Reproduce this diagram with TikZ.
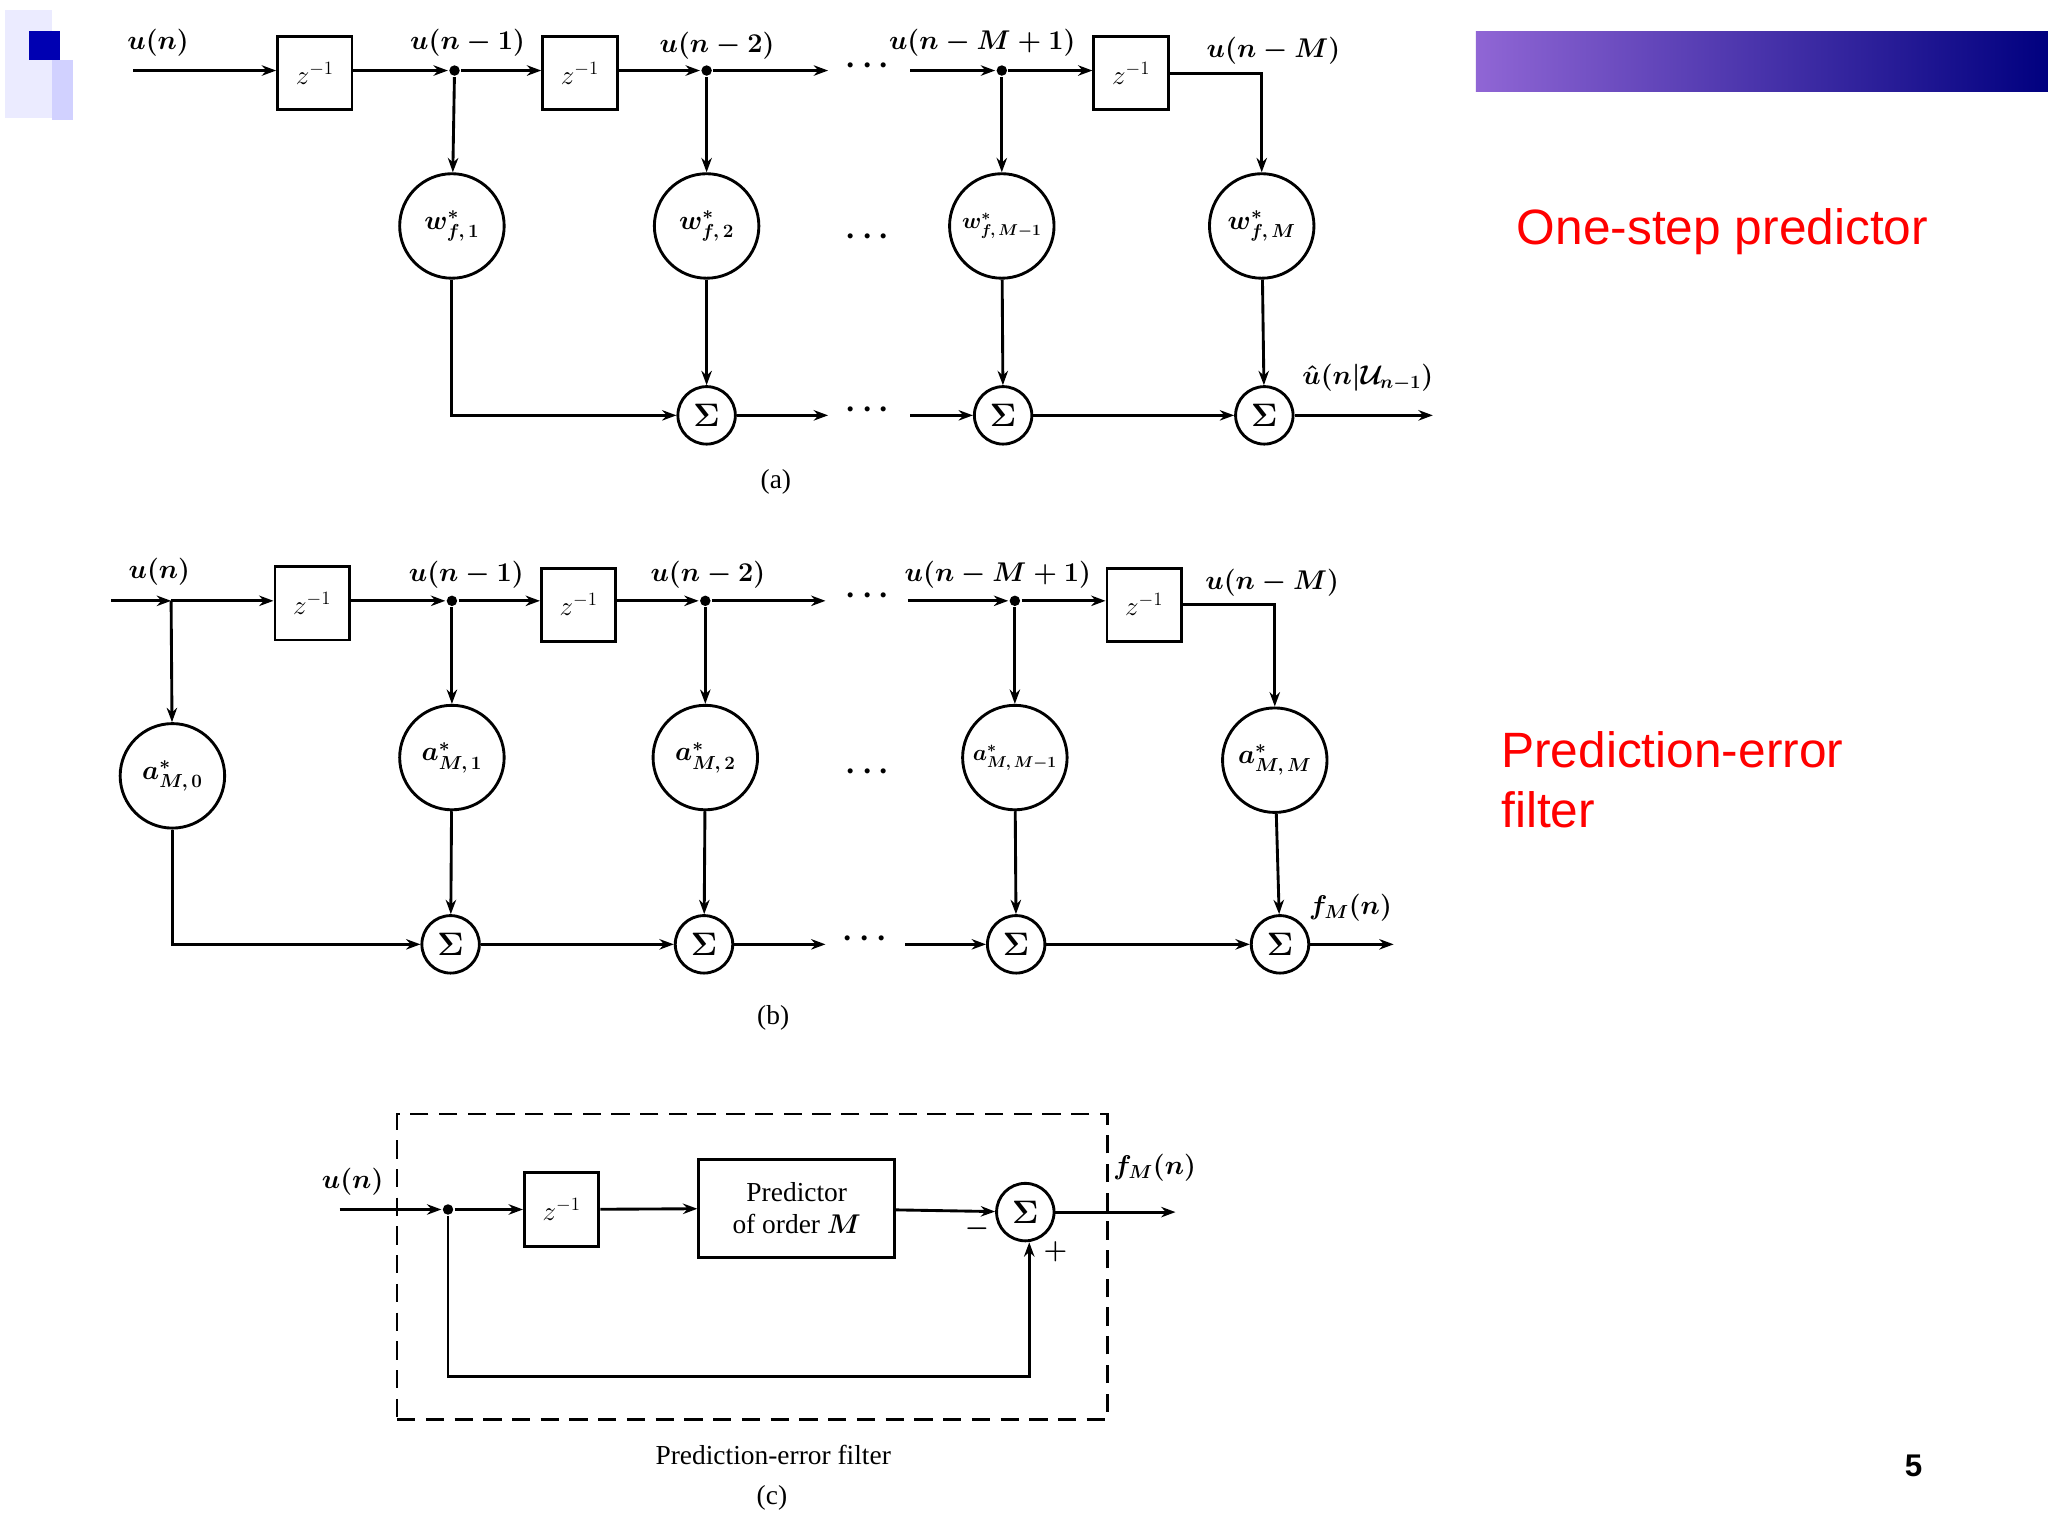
\documentclass[tikz,border=0pt]{standalone}
\usepackage{fontspec}
\setmainfont{Liberation Serif}
\newfontfamily\sanf{Liberation Sans}
\usetikzlibrary{arrows.meta}
\begin{document}
\begin{tikzpicture}[x=1pt,y=-1pt,
  every path/.style={line width=2.2pt},
  >={Stealth[length=11pt,width=8pt]},
  lab/.style={font=\fontsize{21}{24}\selectfont\boldmath,inner sep=0pt},
  dl/.style={draw,line width=2.2pt,minimum width=57pt,minimum height=56pt,font=\fontsize{20}{24}\selectfont,inner sep=0pt},
  wc/.style={draw,circle,line width=2.2pt,minimum size=80pt,inner sep=0pt,font=\fontsize{20}{24}\selectfont\boldmath},
  wcs/.style={wc,font=\fontsize{17}{20}\selectfont\boldmath},
  sc/.style={draw,circle,line width=2.2pt,minimum size=44pt,inner sep=0pt,font=\fontsize{24}{24}\selectfont\boldmath},
  jd/.style={circle,fill,inner sep=0pt,minimum size=8pt},
  dots/.style={font=\fontsize{30}{26}\selectfont\boldmath,inner sep=0pt}]
\useasboundingbox (0,0) rectangle (1568,1176);
\fill[white] (0,0) rectangle (1568,1176);
% decorations
\fill[blue!8] (4,8) rectangle (40,90);
\fill[blue!18] (40,46) rectangle (56,92);
\fill[blue!70!black] (22,24) rectangle (46,46);
\shade[left color=blue!45!violet!60, right color=blue!50!black,draw=none] (1130,24) rectangle (1568,70);
\node[font=\sanf\fontsize{38}{40}\selectfont,text=red,anchor=west] (t1) at (1157,177) {One-step predictor};
\node[font=\sanf\fontsize{38}{46}\selectfont,text=red,anchor=west,align=left] (t2) at (1145,597) {Prediction-error\\filter};
\node[font=\sanf\bfseries\fontsize{24}{24}\selectfont] (pg) at (1465,1122) {5};

% ===== (a)
\coordinate (ain) at (102,54);
\node[dl] (ab1) at (241,56) {$z^{-1}$};
\node[jd] (aj1) at (348,54) {};
\node[dl] (ab2) at (444,56) {$z^{-1}$};
\node[jd] (aj2) at (541,54) {};
\coordinate (ae2) at (634,54);
\node[dots] (ad1) at (664,50) {$\cdots$};
\coordinate (as3) at (697,54);
\node[jd] (aj3) at (767,54) {};
\node[dl] (ab3) at (866,56) {$z^{-1}$};
\coordinate (ac4) at (966,56);
\node[wc] (aw1) at (346,173) {$w^{*}_{f,\,1}$};
\node[wc] (aw2) at (541,173) {$w^{*}_{f,\,2}$};
\node[wcs] (aw3) at (767,173) {$w^{*}_{f,\,M-1}$};
\node[wc] (aw4) at (966,173) {$w^{*}_{f,\,M}$};
\node[dots] (ad2) at (664,181) {$\cdots$};
\node[sc] (as1) at (541,318) {$\Sigma$};
\node[sc] (as2) at (768,318) {$\Sigma$};
\node[sc] (as4) at (968,318) {$\Sigma$};
\coordinate (ac1) at (346,318);
\coordinate (ae3) at (634,318);
\node[dots] (ad3) at (664,314) {$\cdots$};
\coordinate (as5) at (697,318);
\coordinate (aout) at (1097,318);
\draw[->] (ain) -- (ab1.west|-ain);
\draw[->] (ab1.east|-aj1) -- (aj1);
\draw[->] (aj1) -- (ab2.west|-aj1);
\draw[->] (ab2.east|-aj2) -- (aj2);
\draw[->] (aj2) -- (ae2);
\draw[->] (as3) -- (aj3);
\draw[->] (aj3) -- (ab3.west|-aj3);
\draw[->] (ab3.east|-ac4) -- (ac4) -- (aw4);
\draw[->] (aj1) -- (aw1);
\draw[->] (aj2) -- (aw2);
\draw[->] (aj3) -- (aw3);
\draw[->] (aw1) -- (ac1) -- (as1);
\draw[->] (aw2) -- (as1);
\draw[->] (aw3) -- (as2);
\draw[->] (aw4) -- (as4);
\draw[->] (as1) -- (ae3);
\draw[->] (as5) -- (as2);
\draw[->] (as2) -- (as4);
\draw[->] (as4) -- (aout);
\node[lab] (la1) at (121,33) {$u(n)$};
\node[lab] (la2) at (358,33) {$u(n-1)$};
\node[lab] (la3) at (549,35) {$u(n-2)$};
\node[lab] (la4) at (752,33) {$u(n-M+1)$};
\node[lab] (la5) at (975,39) {$u(n-M)$};
\node[lab,anchor=west] (la6) at (996,289) {$\hat u(n|\mathcal{U}_{n-1})$};
\node[lab] (la7) at (594,369) {(a)};

% ===== (b)
\coordinate (bin) at (85,460);
\coordinate (bj0) at (131,460);
\node[dl] (bb1) at (239,462) {$z^{-1}$};
\node[jd] (bj1) at (346,460) {};
\node[dl] (bb2) at (443,463) {$z^{-1}$};
\node[jd] (bj2) at (540,460) {};
\coordinate (be2) at (632,460);
\node[dots] (bd1) at (664,456) {$\cdots$};
\coordinate (bs3) at (695,460);
\node[jd] (bj3) at (777,460) {};
\node[dl] (bb3) at (876,463) {$z^{-1}$};
\coordinate (bc4) at (976,463);
\node[wc] (bw0) at (132,594) {$a^{*}_{M,\,0}$};
\node[wc] (bw1) at (346,580) {$a^{*}_{M,\,1}$};
\node[wc] (bw2) at (540,580) {$a^{*}_{M,\,2}$};
\node[wcs] (bw3) at (777,580) {$a^{*}_{M,\,M-1}$};
\node[wc] (bw4) at (976,582) {$a^{*}_{M,\,M}$};
\node[dots] (bd2) at (664,591) {$\cdots$};
\node[sc] (bs1) at (345,723) {$\Sigma$};
\node[sc] (bs2) at (539,723) {$\Sigma$};
\node[sc] (bs4) at (778,723) {$\Sigma$};
\node[sc] (bs5) at (980,723) {$\Sigma$};
\coordinate (bc0) at (132,723);
\coordinate (be3) at (632,723);
\node[dots] (bd3) at (662,719) {$\cdots$};
\coordinate (bs6) at (693,723);
\coordinate (bout) at (1067,723);
\draw[->] (bin) -- (bj0);
\draw[->] (bj0) -- (bb1.west|-bj0);
\draw[->] (bb1.east|-bj1) -- (bj1);
\draw[->] (bj1) -- (bb2.west|-bj1);
\draw[->] (bb2.east|-bj2) -- (bj2);
\draw[->] (bj2) -- (be2);
\draw[->] (bs3) -- (bj3);
\draw[->] (bj3) -- (bb3.west|-bj3);
\draw[->] (bb3.east|-bc4) -- (bc4) -- (bw4);
\draw[->] (bj0) -- (bw0);
\draw[->] (bj1) -- (bw1);
\draw[->] (bj2) -- (bw2);
\draw[->] (bj3) -- (bw3);
\draw[->] (bw0) -- (bc0) -- (bs1);
\draw[->] (bw1) -- (bs1);
\draw[->] (bw2) -- (bs2);
\draw[->] (bw3) -- (bs4);
\draw[->] (bw4) -- (bs5);
\draw[->] (bs1) -- (bs2);
\draw[->] (bs2) -- (be3);
\draw[->] (bs6) -- (bs4);
\draw[->] (bs4) -- (bs5);
\draw[->] (bs5) -- (bout);
\node[lab] (lb1) at (122,438) {$u(n)$};
\node[lab] (lb2) at (357,440) {$u(n-1)$};
\node[lab] (lb3) at (542,440) {$u(n-2)$};
\node[lab] (lb4) at (764,440) {$u(n-M+1)$};
\node[lab] (lb5) at (974,446) {$u(n-M)$};
\node[lab] (lb6) at (1034,695) {$f_M(n)$};
\node[lab] (lb7) at (592,779) {(b)};

% ===== (c)
\node[draw,line width=2pt,dash pattern=on 14pt off 8pt,minimum width=544pt,minimum height=234pt,inner sep=0pt] (cbox) at (576,970) {};
\coordinate (cin) at (260,926);
\node[jd] (cj) at (343,926) {};
\node[dl] (cb1) at (430,926) {$z^{-1}$};
\node[draw,line width=2.2pt,minimum width=150pt,minimum height=75pt,align=center,font=\fontsize{21}{24}\selectfont\boldmath,inner sep=0pt] (cp) at (610,925) {Predictor\\of order $M$};
\node[sc] (cs) at (785,928) {$\Sigma$};
\coordinate (cout) at (900,928);
\coordinate (cc1) at (343,1054);
\coordinate (cc2) at (788,1054);
\draw[->] (cin) -- (cj);
\draw[->] (cj) -- (cb1);
\draw[->] (cb1) -- (cp);
\draw[->] (cp) -- (cs);
\draw[->] (cs) -- (cout);
\draw[->] (cj) -- (cc1) -- (cc2) -- (cs.south-|cc2);
\node[lab] (lc1) at (270,905) {$u(n)$};
\node[lab] (lc2) at (884,894) {$f_M(n)$};
\node[lab] (lc3) at (748,941) {$-$};
\node[lab] (lc4) at (808,958) {$+$};
\node[lab] (lc5) at (592,1114) {Prediction-error filter};
\node[lab] (lc6) at (591,1147) {(c)};
\end{tikzpicture}
\end{document}
